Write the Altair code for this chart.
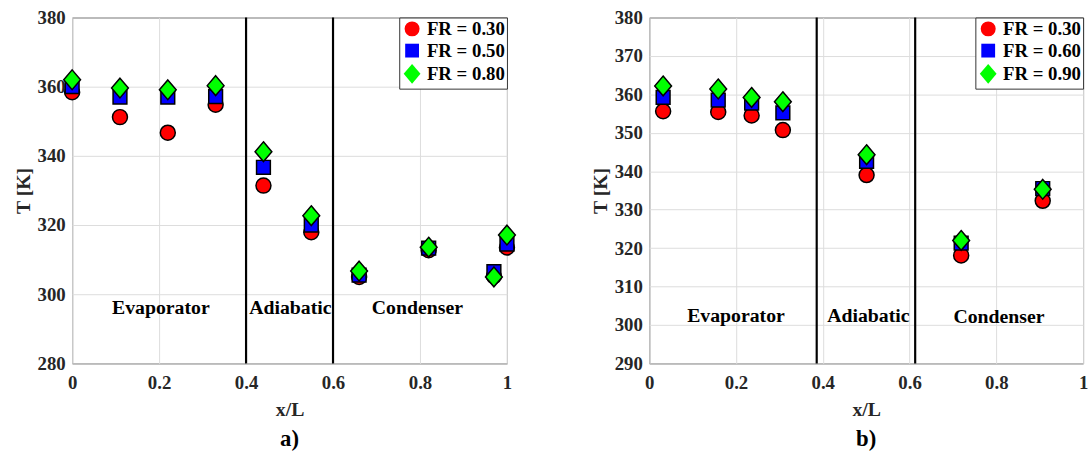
import altair as alt
import pandas as pd

# ---------------- data ----------------
series_a = ["FR = 0.30", "FR = 0.50", "FR = 0.80"]
xa = [0.0, 0.11, 0.22, 0.33, 0.44, 0.55, 0.66, 0.82, 0.97, 1.0]
a_fr30 = [358.4, 351.2, 346.7, 354.8, 331.4, 317.9, 305.0, 312.7, 305.2, 313.5]
a_fr50 = [360.0, 357.0, 357.0, 357.1, 336.7, 320.0, 305.5, 313.3, 306.5, 314.5]
a_fr80 = [362.0, 359.6, 359.1, 360.3, 341.2, 322.7, 306.7, 313.6, 305.0, 317.1]

series_b = ["FR = 0.30", "FR = 0.60", "FR = 0.90"]
xb = [0.032, 0.159, 0.236, 0.308, 0.501, 0.719, 0.907]
b_fr30 = [355.6, 355.4, 354.5, 350.7, 339.0, 318.1, 332.3]
b_fr60 = [359.2, 358.5, 357.7, 355.2, 342.6, 321.3, 335.5]
b_fr90 = [362.2, 361.4, 359.2, 358.1, 344.3, 322.0, 335.3]

bounds_a = [0.4, 0.6]
bounds_b = [0.386, 0.613]

region_names = ["Evaporator", "Adiabatic", "Condenser"]
regions_a_x = [0.204, 0.502, 0.794]
regions_a_y = [296.0, 296.0, 296.0]
regions_b_x = [0.20, 0.505, 0.806]
regions_b_y = [302.4, 302.4, 302.1]

x_ticks = [0, 0.2, 0.4, 0.6, 0.8, 1]
y_ticks_a = [280, 300, 320, 340, 360, 380]
y_ticks_b = [290, 300, 310, 320, 330, 340, 350, 360, 370, 380]

colors = ["#ff0000", "#0000ff", "#00ff00"]
diamond = "M0,-1L0.85,0L0,1L-0.85,0Z"
shapes = ["circle", "square", diamond]
sizes = [230, 195, 400]

FONT = "Liberation Serif"
TXT = "#262626"


def panel(xs, ys_list, names, bounds, rx, ry, y_dom, y_ticks, caption, w):
    rows = []
    for name, ys in zip(names, ys_list):
        for x, y in zip(xs, ys):
            rows.append({"x": x, "T": y, "s": name})
    df = pd.DataFrame(rows)

    xaxis = alt.Axis(values=x_ticks, format="~g", title="x/L",
                     labelFlush=False, labelOverlap=False)
    yaxis = alt.Axis(values=y_ticks, format="d", title="T [K]",
                     labelFlush=False, labelOverlap=False)
    xscale = alt.Scale(domain=[0, 1], nice=False)
    yscale = alt.Scale(domain=y_dom, nice=False, zero=False)

    def X():
        return alt.X("x:Q", scale=xscale, axis=xaxis)

    def Y():
        return alt.Y("T:Q", scale=yscale, axis=yaxis)

    leg = alt.Legend(title=None, orient="top-right", offset=0)
    pts = alt.Chart(df).mark_point(filled=True, stroke="black", strokeWidth=1.5,
                                   opacity=1).encode(
        x=X(),
        y=Y(),
        color=alt.Color("s:N", scale=alt.Scale(domain=names, range=colors), legend=leg),
        shape=alt.Shape("s:N", scale=alt.Scale(domain=names, range=shapes), legend=leg),
        size=alt.Size("s:N", scale=alt.Scale(type="ordinal", domain=names, range=sizes),
                      legend=leg),
    )

    rules = alt.Chart(pd.DataFrame({"x": bounds})).mark_rule(
        color="black", strokeWidth=2.2).encode(x=X())

    texts = alt.Chart(pd.DataFrame({"x": rx, "T": ry, "t": region_names})).mark_text(
        font=FONT, fontSize=20, fontWeight="bold", color="black").encode(
        x=X(), y=Y(), text="t:N")

    return alt.layer(rules, texts, pts).properties(
        width=w, height=350,
        title=alt.TitleParams(text=caption, orient="bottom", anchor="middle",
                              frame="group", font=FONT, fontSize=23,
                              fontWeight="bold", color="black", offset=9),
    )


pa = panel(xa, [a_fr30, a_fr50, a_fr80], series_a, bounds_a, regions_a_x,
           regions_a_y, [280, 380], y_ticks_a, "a)", 440)
pb = panel(xb, [b_fr30, b_fr60, b_fr90], series_b, bounds_b, regions_b_x,
           regions_b_y, [290, 380], y_ticks_b, "b)", 439)

chart = alt.hconcat(pa, pb, spacing=72).resolve_scale(
    color="independent", shape="independent", size="independent"
).resolve_legend(color="independent", shape="independent", size="independent").properties(
    padding={"left": 13, "top": 5, "right": 0, "bottom": 0}
).configure_view(
    stroke="#333333", strokeWidth=1
).configure_axis(
    labelFont=FONT, labelFontSize=19, labelFontWeight="bold", labelColor=TXT,
    titleFont=FONT, titleFontSize=20, titleFontWeight="bold", titleColor=TXT,
    grid=True, gridColor="#dcdcdc", gridWidth=1, domain=False, ticks=False,
    labelPadding=7, titlePadding=6,
).configure_axisX(
    labelPadding=10, titlePadding=8,
).configure_axisY(
    titlePadding=4,
).configure_legend(
    labelFont=FONT, labelFontSize=19, labelFontWeight="bold", labelColor="black",
    strokeColor="#333333", fillColor="white", padding=2, rowPadding=0,
    symbolSize=270, symbolStrokeColor="black", symbolStrokeWidth=1.5,
    symbolOpacity=1, cornerRadius=0, labelOffset=4,
)

chart.save("out.html", embed_options={"renderer": "svg", "actions": False})
